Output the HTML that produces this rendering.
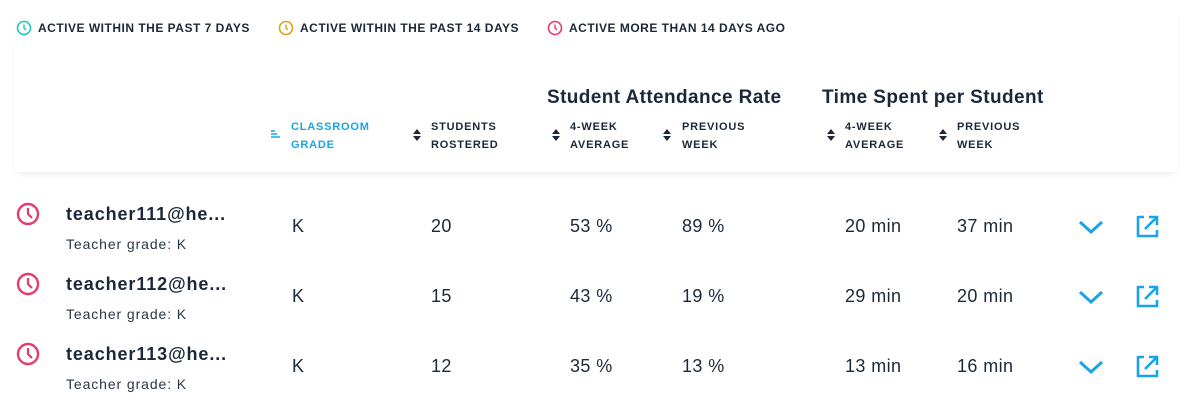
<!DOCTYPE html>
<html><head><style>
body{margin:0;width:1191px;height:406px;background:#fff;font-family:"Liberation Sans",sans-serif;color:#1b2838;position:relative;overflow:hidden}
.a{position:absolute;white-space:nowrap}
.lg{font-size:12px;font-weight:bold;letter-spacing:.5px;top:21px}
.gt{font-size:19px;font-weight:bold;top:87px;letter-spacing:.4px}
.ch{font-size:11px;font-weight:bold;line-height:18px;top:118px;letter-spacing:.8px}
.nm{font-size:18px;font-weight:bold;letter-spacing:.9px}
.sb{font-size:14px;color:#2b3645;letter-spacing:.9px}
.v{font-size:18px;letter-spacing:.4px}
.card{position:absolute;left:14px;top:0px;width:1164px;height:172px;background:#fff;box-shadow:0 6px 8px -4px rgba(0,0,0,.08)}
</style></head><body>
<div class="card"></div>
<svg class="a" style="left:16px;top:20px" width="16" height="16"><circle cx="8" cy="8" r="6.5" fill="none" stroke="#1cc5c0" stroke-width="1.6"/><path d="M8 4.5V8l2 2" fill="none" stroke="#1cc5c0" stroke-width="1.4"/></svg>
<div class="a lg" style="left:38px">ACTIVE WITHIN THE PAST 7 DAYS</div>
<svg class="a" style="left:278px;top:20px" width="16" height="16"><circle cx="8" cy="8" r="6.5" fill="none" stroke="#d9a21c" stroke-width="1.6"/><path d="M8 4.5V8l2 2" fill="none" stroke="#d9a21c" stroke-width="1.4"/></svg>
<div class="a lg" style="left:300px">ACTIVE WITHIN THE PAST 14 DAYS</div>
<svg class="a" style="left:547px;top:20px" width="16" height="16"><circle cx="8" cy="8" r="6.5" fill="none" stroke="#e43b6c" stroke-width="1.6"/><path d="M8 4.5V8l2 2" fill="none" stroke="#e43b6c" stroke-width="1.4"/></svg>
<div class="a lg" style="left:569px">ACTIVE MORE THAN 14 DAYS AGO</div>

<div class="a gt" style="left:547px">Student Attendance Rate</div>
<div class="a gt" style="left:822px">Time Spent per Student</div>

<svg class="a" style="left:271px;top:130px" width="12" height="10"><path d="M0 1h4M0 4h6M0 7h9" stroke="#1aa3e8" stroke-width="1.6"/></svg>
<div class="a ch" style="left:291px;color:#1aa3e8">CLASSROOM<br>GRADE</div>
<div class="a ch" style="left:431px">STUDENTS<br>ROSTERED</div>
<div class="a ch" style="left:570px">4-WEEK<br>AVERAGE</div>
<div class="a ch" style="left:682px">PREVIOUS<br>WEEK</div>
<div class="a ch" style="left:845px">4-WEEK<br>AVERAGE</div>
<div class="a ch" style="left:957px">PREVIOUS<br>WEEK</div>
<svg class="a" style="left:412px;top:128px" width="10" height="14"><path d="M1 6L5 1l4 5zM1 8l4 5 4-5z" fill="#1b2838"/></svg>
<svg class="a" style="left:551px;top:128px" width="10" height="14"><path d="M1 6L5 1l4 5zM1 8l4 5 4-5z" fill="#1b2838"/></svg>
<svg class="a" style="left:662px;top:128px" width="10" height="14"><path d="M1 6L5 1l4 5zM1 8l4 5 4-5z" fill="#1b2838"/></svg>
<svg class="a" style="left:826px;top:128px" width="10" height="14"><path d="M1 6L5 1l4 5zM1 8l4 5 4-5z" fill="#1b2838"/></svg>
<svg class="a" style="left:938px;top:128px" width="10" height="14"><path d="M1 6L5 1l4 5zM1 8l4 5 4-5z" fill="#1b2838"/></svg>

<div id="rows"></div>
<script>
var d=[["111","20","53 %","89 %","20 min","37 min"],["112","15","43 %","19 %","29 min","20 min"],["113","12","35 %","13 %","13 min","16 min"]];
var h="";
d.forEach(function(r,i){var y=i*70;
h+='<svg class="a" style="left:16px;top:'+(202+y)+'px" width="26" height="26"><circle cx="12" cy="12" r="10" fill="none" stroke="#e43b6c" stroke-width="2.4"/><path d="M12 6v6l4 4" fill="none" stroke="#e43b6c" stroke-width="2.2"/></svg>';
h+='<div class="a nm" style="left:66px;top:'+(204+y)+'px">teacher'+r[0]+'@he...</div>';
h+='<div class="a sb" style="left:66px;top:'+(236+y)+'px">Teacher grade: K</div>';
var xs=[292,431,570,682,845,957],vs=["K",r[1],r[2],r[3],r[4],r[5]];
xs.forEach(function(x,j){h+='<div class="a v" style="left:'+x+'px;top:'+(216+y)+'px">'+vs[j]+'</div>';});
h+='<svg class="a" style="left:1078px;top:'+(219+y)+'px" width="26" height="16"><path d="M2 3l11 10 11-10" fill="none" stroke="#1aa3e8" stroke-width="3"/></svg>';
h+='<svg class="a" style="left:1134px;top:'+(214+y)+'px" width="26" height="26"><path d="M10 3H4v19h19v-6" fill="none" stroke="#1aa3e8" stroke-width="2.6" stroke-linejoin="round"/><path d="M11 15L22 4M15 3h8v8" fill="none" stroke="#1aa3e8" stroke-width="2.6"/></svg>';
});
document.getElementById("rows").innerHTML=h;
</script>
</body></html>
